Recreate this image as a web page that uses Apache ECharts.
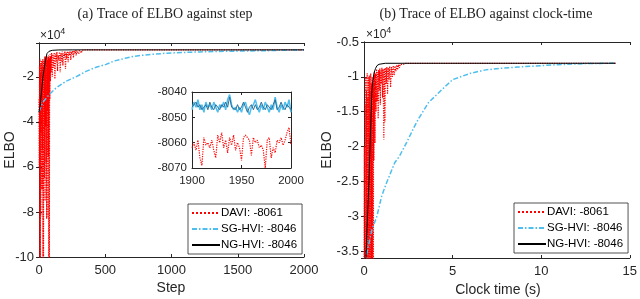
<!DOCTYPE html>
<html><head><meta charset="utf-8">
<script src="https://cdn.jsdelivr.net/npm/echarts@6/dist/echarts.min.js"></script>
<style>html,body{margin:0;padding:0;background:#fff}#c{width:640px;height:299px}</style>
</head><body><div id="c"></div>
<script>
// ---------- data ----------
const seriesNames = ['DAVI: -8061', 'SG-HVI: -8046', 'NG-HVI: -8046'];
const titles = ['(a) Trace of ELBO against step', '(b) Trace of ELBO against clock-time'];
const xNames = ['Step', 'Clock time (s)'];

// (a) ELBO vs step  [step, ELBO]
const stepDavi = [[0,-30000],[2,-60000],[4,-15000],[6,-105000],[8,-12000],[10,-105000],[12,-18000],[14,-82000],[16,-14000],[18,-45000],[20,-13000],[22,-70000],[24,-16000],[26,-52000],[28,-12000],[30,-105000],[32,-13000],[34,-105000],[36,-15000],[38,-38000],[40,-12000],[42,-65000],[44,-11000],[46,-75000],[48,-13000],[50,-42000],[52,-11000],[54,-58000],[56,-12000],[58,-83000],[60,-11000],[62,-82000],[64,-12500],[66,-35000],[68,-11000],[70,-55000],[72,-10500],[74,-105000],[76,-11000],[78,-105000],[80,-12000],[82,-30000],[84,-10000],[86,-22000],[88,-11000],[90,-18000],[95,-9500],[100,-20000],[105,-10000],[110,-16000],[115,-9200],[120,-21000],[125,-9800],[130,-14000],[135,-9000],[140,-17500],[145,-10500],[150,-12500],[155,-9000],[160,-18000],[165,-9600],[170,-13500],[175,-8800],[180,-15000],[185,-9400],[190,-11500],[195,-8700],[200,-16500],[205,-9300],[210,-12000],[215,-8600],[220,-13500],[225,-9100],[230,-10500],[235,-8500],[240,-12500],[245,-8800],[250,-10000],[255,-8400],[260,-11500],[265,-8600],[270,-9500],[275,-8300],[280,-10500],[285,-8400],[290,-9200],[295,-8250],[300,-9800],[305,-8300],[310,-8800],[315,-8200],[320,-9400],[325,-8150],[330,-8600],[335,-8150],[340,-8800],[345,-8100],[350,-8400],[355,-8100],[360,-8300],[370,-8080],[380,-8120],[390,-8070],[400,-8065],[2000,-8061]];
const stepSg = [[0,-35500],[28,-31400],[75,-28000],[128,-25000],[204,-22000],[279,-20000],[355,-17600],[430,-15800],[506,-14500],[566,-13000],[650,-11800],[709,-11000],[800,-10300],[966,-9500],[1100,-9200],[1215,-8950],[1400,-8700],[1600,-8500],[1721,-8400],[1850,-8200],[2000,-8046]];
const stepNg = [[0,-35800],[8,-33000],[15,-29000],[30,-20000],[45,-14000],[60,-9700],[75,-8700],[100,-8250],[150,-8080],[250,-8050],[2000,-8046]];

// inset: last 100 steps
const insetSteps = [1900,1902,1904,1906,1908,1910,1912,1914,1916,1918,1920,1922,1924,1926,1928,1930,1932,1934,1936,1938,1940,1942,1944,1946,1948,1950,1952,1954,1956,1958,1960,1962,1964,1966,1968,1970,1972,1974,1976,1978,1980,1982,1984,1986,1988,1990,1992,1994,1996,1998,2000];
const insetDavi = [-8062,-8060,-8063,-8059,-8066,-8069,-8058,-8061,-8060,-8062,-8059,-8063,-8066,-8057,-8060,-8056,-8062,-8059,-8064,-8058,-8061,-8057,-8063,-8060,-8062,-8067,-8058,-8057,-8058,-8059,-8065,-8058,-8060,-8059,-8062,-8061,-8063,-8070,-8059,-8058,-8066,-8062,-8064,-8059,-8060,-8058,-8061,-8059,-8056,-8054,-8061];
const insetSg = [-8047,-8044,-8046,-8043,-8047,-8045,-8048,-8044,-8046,-8045,-8047,-8044,-8046,-8048,-8045,-8046,-8044,-8047,-8043,-8041,-8045,-8047,-8046,-8048,-8046,-8048,-8045,-8044,-8047,-8049,-8046,-8045,-8043,-8046,-8048,-8045,-8047,-8044,-8046,-8048,-8045,-8047,-8042,-8046,-8048,-8045,-8047,-8044,-8046,-8043,-8048];
const insetNg = [-8046,-8045,-8044,-8046,-8045,-8047,-8046,-8045,-8047,-8044,-8046,-8047,-8045,-8046,-8047,-8045,-8046,-8044,-8046,-8042,-8046,-8046,-8047,-8045,-8047,-8046,-8044,-8046,-8048,-8046,-8045,-8047,-8045,-8047,-8046,-8044,-8046,-8047,-8045,-8046,-8047,-8045,-8043,-8047,-8046,-8044,-8046,-8047,-8045,-8046,-8047];

// (b) ELBO vs clock time [seconds, ELBO]
const timeDavi = [[0,-40000],[0.02,-20000],[0.04,-60000],[0.06,-14000],[0.08,-90000],[0.10,-10000],[0.12,-50000],[0.14,-12000],[0.16,-70000],[0.18,-9500],[0.20,-45000],[0.22,-13000],[0.24,-80000],[0.26,-10000],[0.28,-38000],[0.30,-9800],[0.32,-60000],[0.34,-12000],[0.36,-42000],[0.38,-9500],[0.40,-70000],[0.42,-11000],[0.44,-50000],[0.46,-10000],[0.48,-38000],[0.50,-11500],[0.52,-60000],[0.54,-10000],[0.56,-22000],[0.59,-9200],[0.62,-19500],[0.65,-9500],[0.68,-15000],[0.71,-8900],[0.74,-13500],[0.77,-9300],[0.80,-16000],[0.83,-9000],[0.86,-12000],[0.89,-8800],[0.92,-14000],[0.95,-9100],[0.98,-11000],[1.01,-8700],[1.05,-13000],[1.08,-8900],[1.12,-19000],[1.15,-8800],[1.18,-16500],[1.21,-8700],[1.25,-11000],[1.29,-8600],[1.33,-12500],[1.37,-8700],[1.41,-10500],[1.45,-8500],[1.5,-11500],[1.55,-8600],[1.6,-10000],[1.65,-8400],[1.7,-9800],[1.75,-8450],[1.8,-9200],[1.85,-8300],[1.9,-9000],[1.95,-8250],[2.0,-8700],[2.05,-8200],[2.1,-8450],[2.15,-8150],[2.2,-8250],[2.25,-8080],[2.35,-8070],[14.2,-8061]];
const timeSg = [[0.05,-37000],[0.11,-35900],[0.45,-31900],[0.73,-30000],[1.0,-27100],[1.29,-25100],[1.74,-22300],[2.0,-21400],[2.41,-19400],[2.85,-17100],[3.08,-16000],[3.64,-13700],[4.37,-11900],[5.0,-10400],[6.0,-9500],[6.87,-9000],[7.8,-8750],[8.7,-8600],[9.6,-8450],[10.6,-8300],[11.5,-8200],[12.5,-8100],[13.3,-8070],[14.2,-8046]];
const timeNg = [[0,-37000],[0.11,-35900],[0.2,-30000],[0.28,-25000],[0.39,-16000],[0.45,-12000],[0.5,-10500],[0.56,-9500],[0.65,-8800],[0.73,-8400],[0.85,-8200],[0.95,-8100],[1.2,-8055],[14.2,-8046]];

// ---------- chart ----------
const AX = '#262626';
const RED = '#ff0000', CYAN = '#4dbeee', BLACK = '#000000';
const sans = 'Liberation Sans, Arial, Helvetica, sans-serif';
const serif = 'Liberation Serif, Times New Roman, serif';
const fmtI = v => String(v);
const fmt4 = v => String(+(v/10000).toFixed(2));

function xAx(grid, min, max, interval, top, fs) {
  return {type:'value', gridIndex:grid, min, max, interval, position: top?'top':'bottom',
    axisLine:{show:true, lineStyle:{color:AX, width:1}},
    axisTick:{show:true, inside:true, length:3, lineStyle:{color:AX}},
    axisLabel:{show:!top, color:AX, fontSize:fs, fontFamily:sans, margin:7, formatter:fmtI},
    splitLine:{show:false}};
}
function yAx(grid, min, max, opts, right, fs, fmt) {
  return Object.assign({type:'value', gridIndex:grid, min, max, position: right?'right':'left',
    axisLine:{show:true, lineStyle:{color:AX, width:1}},
    axisTick:{show:true, inside:true, length:3, lineStyle:{color:AX}},
    axisLabel:{show:!right, color:AX, fontSize:fs, fontFamily:sans, margin:5, formatter:fmt, showMaxLabel:opts.showMax, showMinLabel:opts.showMin},
    splitLine:{show:false}}, opts.extra);
}

const styles = [
  {color:RED, width:1.2, type:'dotted'},
  {color:CYAN, width:1.5, type:[5,2,1.5,2]},
  {color:BLACK, width:1, type:'solid'}
];
function ser(name, idx, data, xi, yi, style) {
  return {name, type:'line', xAxisIndex:xi, yAxisIndex:yi, data, showSymbol:false, symbol:'none',
    lineStyle:Object.assign({}, style), itemStyle:{color:style.color}, animation:false, clip:true, z:2+idx};
}
const insetPairs = arr => insetSteps.map((s,i)=>[s, arr[i]]);

function legendAt(left, top) {
  return {data:seriesNames, orient:'vertical', left, top, itemWidth:28, itemHeight:10, itemGap:4,
    padding:[3,5,3,3], borderColor:AX, borderWidth:0.8, backgroundColor:'#fff', selectedMode:false,
    itemStyle:{opacity:0},
    textStyle:{fontFamily:sans, fontSize:11.5, color:'#000', padding:[0,0,0,-4]}, z:10};
}

const option = {
  animation:false,
  title:[
    {text:titles[0], left:160, top:2, textAlign:'center', textStyle:{fontFamily:serif, fontSize:14, fontWeight:'normal', color:'#222'}},
    {text:titles[1], left:481, top:2, textAlign:'center', textStyle:{fontFamily:serif, fontSize:14, fontWeight:'normal', color:'#222'}}
  ],
  grid:[
    {left:39, top:43, width:265, height:214},
    {left:364, top:42, width:268, height:216},
    {left:192, top:92, width:99, height:76, show:true, backgroundColor:'#fff', borderWidth:0}
  ],
  xAxis:[
    xAx(0,0,2000,500,false,13), xAx(0,0,2000,500,true,13),
    xAx(1,0,15,5,false,13), xAx(1,0,15,5,true,13),
    xAx(2,1900,2000,50,false,11.5), xAx(2,1900,2000,50,true,11.5)
  ],
  yAxis:[
    yAx(0,-100000,-5000,{showMax:false, extra:{interval:20000}},false,13,fmt4),
    yAx(0,-100000,-5000,{showMax:false, extra:{interval:20000}},true,13,fmt4),
    yAx(1,-36000,-5000,{showMin:false, extra:{minInterval:5000, maxInterval:5000}},false,13,fmt4),
    yAx(1,-36000,-5000,{showMin:false, extra:{minInterval:5000, maxInterval:5000}},true,13,fmt4),
    yAx(2,-8070,-8040,{extra:{interval:10}},false,11.5,fmtI),
    yAx(2,-8070,-8040,{extra:{interval:10}},true,11.5,fmtI)
  ],
  legend:[ legendAt(188,204), legendAt(514,203) ],
  graphic:[
    {type:'text', left:40, top:27, style:{text:'{a|×10}{b|4}', rich:{a:{fontFamily:sans, fontSize:12, fill:AX}, b:{fontFamily:sans, fontSize:9, fill:AX, padding:[0,0,8,0]}}}},
    {type:'text', left:366, top:26, style:{text:'{a|×10}{b|4}', rich:{a:{fontFamily:sans, fontSize:12, fill:AX}, b:{fontFamily:sans, fontSize:9, fill:AX, padding:[0,0,8,0]}}}},
    {type:'text', x:10, y:150, rotation:Math.PI/2, style:{text:'ELBO', fontFamily:sans, fontSize:14, fill:AX, align:'center', verticalAlign:'middle'}},
    {type:'text', x:327, y:150, rotation:Math.PI/2, style:{text:'ELBO', fontFamily:sans, fontSize:14, fill:AX, align:'center', verticalAlign:'middle'}},
    {type:'text', x:171, y:288, style:{text:xNames[0], fontFamily:sans, fontSize:14, fill:AX, align:'center', verticalAlign:'middle'}},
    {type:'text', x:498, y:290, style:{text:xNames[1], fontFamily:sans, fontSize:14, fill:AX, align:'center', verticalAlign:'middle'}}
  ],
  series:[
    ser(seriesNames[0],0,stepDavi,0,0,styles[0]),
    ser(seriesNames[1],1,stepSg,0,0,styles[1]),
    ser(seriesNames[2],2,stepNg,0,0,styles[2]),
    ser(seriesNames[0],0,timeDavi,2,2,styles[0]),
    ser(seriesNames[1],1,timeSg,2,2,styles[1]),
    ser(seriesNames[2],2,timeNg,2,2,styles[2]),
    ser(seriesNames[0],0,insetPairs(insetDavi),4,4,styles[0]),
    ser(seriesNames[1],1,insetPairs(insetSg),4,4,{color:CYAN, width:1.5, type:'solid'}),
    ser(seriesNames[2],2,insetPairs(insetNg),4,4,{color:'#2a6f98', width:1, type:'solid'})
  ]
};
const chart = echarts.init(document.getElementById('c'), null, {renderer:'canvas'});
chart.setOption(option);
</script></body></html>
